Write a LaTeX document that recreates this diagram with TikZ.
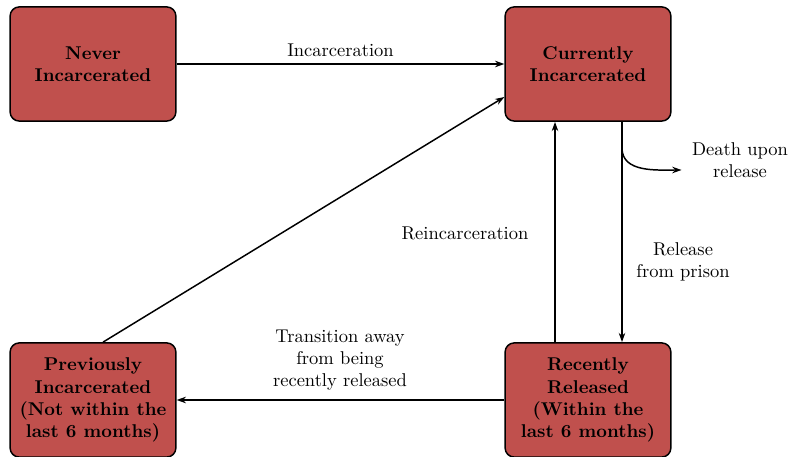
\documentclass[tikz,border=0pt]{standalone}
\usepackage{tikz}
\usetikzlibrary{positioning, calc, arrows.meta}
\definecolor{statered}{RGB}{192,80,77}

\begin{document}
\begin{tikzpicture}[x=0.019cm, y=-0.019cm, >={Stealth[length=5pt, width=3.5pt]},
	state/.style={draw, thick, fill=statered, rounded corners=5pt, align=center,
		font=\bfseries, minimum width=3.15cm, minimum height=2.17cm, inner sep=2pt},
	lbl/.style={align=center}]
		
		\useasboundingbox (0,0) rectangle (792,457);
		
		% the four states
		\node[state] (never) at (93,64) {Never\\Incarcerated};
		\node[state] (curr) at (588,64) {Currently\\Incarcerated};
		\node[state] (prev) at (93,400) {Previously\\Incarcerated\\(Not within the\\last 6 months)};
		\node[state] (recent) at (588,400) {Recently\\Released\\(Within the\\last 6 months)};
		
		% incarceration
		\draw[->, thick] (never.east) -- node[lbl, above] {Incarceration} (curr.west);
		
		% from previously incarcerated back to prison
		\draw[->, thick] ($(prev.north)+(10,0)$) -- ($(curr.west)+(0,33)$);
		
		% reincarceration and release
		\draw[->, thick] ($(recent.north)+(-33,0)$) -- ($(curr.south)+(-33,0)$);
		\draw[->, thick] ($(curr.south)+(34,0)$) -- ($(recent.north)+(34,0)$);
		\node[lbl] (reinc) at (465,233) {Reincarceration};
		\node[lbl] (rel) at (683,262) {Release\\from prison};
		
		% death upon release
		\node[lbl] (death) at (740,160) {Death upon\\release};
		\coordinate (split) at (622,148);
		\draw[->, thick] (split) to[out=-90, in=180] ($(death.west)+(-4,10)$);
		
		% transition away
		\draw[->, thick] (recent.west) -- (prev.east);
		\node[lbl] (trans) at (340,360) {Transition away\\from being\\recently released};
	\end{tikzpicture}
\end{document}
